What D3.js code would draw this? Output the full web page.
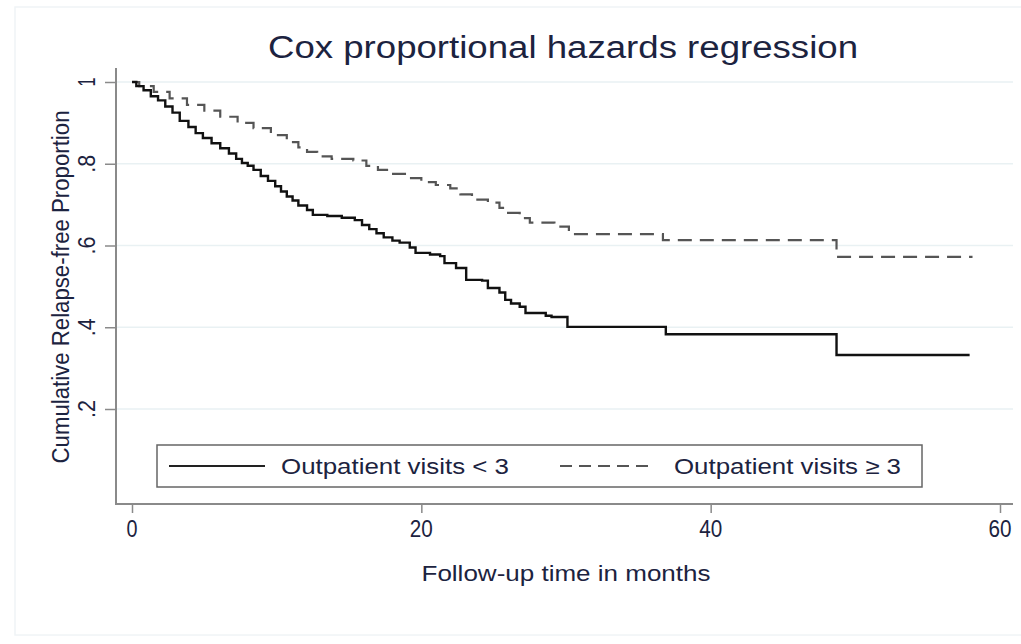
<!DOCTYPE html>
<html>
<head>
<meta charset="utf-8">
<script src="https://cdn.jsdelivr.net/npm/d3@7"></script>
<style>
  body { margin: 0; background: #fff; }
  text { font-family: "Liberation Sans", Arial, sans-serif; fill: #1c2340; }
</style>
</head>
<body>
<div id="chart"></div>
<script>
// Kaplan-Meier style step data
const lowTime = [0, 0.3, 0.8, 1.3, 1.8, 2.3, 2.8, 3.3, 3.9, 4.4, 4.9, 5.5, 6.1, 6.7, 7.2, 7.6, 8.0, 8.4, 8.9, 9.4,
  9.9, 10.3, 10.7, 11.1, 11.5, 12.1, 12.5, 13.5, 14.5, 15.4, 15.9, 16.4, 16.9, 17.4, 18.0, 18.5, 19.2, 19.6, 20.6,
  21.3, 21.6, 22.4, 23.1, 24.2, 24.6, 25.4, 25.8, 26.2, 26.8, 27.2, 28.6, 29.0, 30.1, 36.9, 48.7, 57.9];
const lowSurv = [1.0, 0.99, 0.98, 0.965, 0.955, 0.94, 0.925, 0.905, 0.89, 0.875, 0.863, 0.85, 0.838, 0.825, 0.812,
  0.802, 0.795, 0.785, 0.77, 0.758, 0.745, 0.732, 0.72, 0.71, 0.698, 0.687, 0.675, 0.672, 0.668, 0.662, 0.65, 0.64,
  0.63, 0.62, 0.612, 0.607, 0.595, 0.582, 0.578, 0.574, 0.557, 0.545, 0.516, 0.514, 0.496, 0.485, 0.467, 0.458,
  0.45, 0.435, 0.428, 0.425, 0.401, 0.383, 0.332, 0.332];

const highTime = [0, 0.5, 1.5, 2.6, 3.8, 5.0, 6.1, 7.3, 8.4, 9.6, 10.7, 11.5, 12.1, 12.8, 13.8, 15.3, 16.2, 17.0,
  17.8, 19.0, 20.0, 21.0, 22.0, 22.7, 23.5, 24.6, 25.4, 26.0, 26.8, 27.5, 29.2, 30.2, 36.7, 48.7, 58.1];
const highSurv = [1.0, 0.99, 0.976, 0.96, 0.944, 0.93, 0.915, 0.9, 0.887, 0.87, 0.853, 0.84, 0.829, 0.818, 0.812,
  0.808, 0.795, 0.785, 0.775, 0.765, 0.755, 0.748, 0.74, 0.725, 0.712, 0.705, 0.692, 0.68, 0.667, 0.656, 0.646,
  0.628, 0.613, 0.572, 0.572];

const xTicks = [0, 20, 40, 60];
const yTicks = [0.2, 0.4, 0.6, 0.8, 1];
const yTickLabels = [".2", ".4", ".6", ".8", "1"];
const legendLabels = ["Outpatient visits < 3", "Outpatient visits \u2265 3"];

const width = 1021, height = 644;

const svg = d3.select("#chart").append("svg")
    .attr("width", width)
    .attr("height", height);

svg.append("rect").attr("width", width).attr("height", height).attr("fill", "#fff");

// faint outer frame
svg.append("rect")
    .attr("x", 15).attr("y", 7)
    .attr("width", 1030).attr("height", 628)
    .attr("fill", "none")
    .attr("stroke", "#f0f4f6")
    .attr("stroke-width", 1.5);

const x = d3.scaleLinear().domain([0, 60]).range([132, 1000]);
const y = d3.scaleLinear().domain([0.2, 1]).range([409, 82]);

const axisX = 116, axisY = 504, plotRight = 1013, plotTop = 68;

// gridlines
svg.selectAll(".grid")
    .data(yTicks)
    .enter()
    .append("line")
    .attr("class", "grid")
    .attr("x1", axisX + 1).attr("x2", plotRight)
    .attr("y1", d => y(d)).attr("y2", d => y(d))
    .attr("stroke", "#e9f1f3")
    .attr("stroke-width", 1.5);

// y axis
const yAxis = svg.append("g")
    .attr("transform", `translate(${axisX},0)`)
    .call(d3.axisLeft(y).tickValues(yTicks).tickSize(11).tickFormat(""));
yAxis.select(".domain").remove();
yAxis.selectAll(".tick line").attr("stroke", "#8a8a8a").attr("stroke-width", 1.5);
svg.append("line")
    .attr("x1", axisX).attr("x2", axisX)
    .attr("y1", plotTop).attr("y2", axisY)
    .attr("stroke", "#8a8a8a").attr("stroke-width", 2);

svg.selectAll(".ylab")
    .data(yTicks)
    .enter()
    .append("text")
    .attr("class", "ylab")
    .attr("transform", d => `translate(95,${y(d)}) rotate(-90)`)
    .attr("text-anchor", "middle")
    .style("font-size", "24px")
    .attr("textLength", (d, i) => i === 4 ? 9 : 18)
    .attr("lengthAdjust", "spacingAndGlyphs")
    .text((d, i) => yTickLabels[i]);

// x axis
const xAxis = svg.append("g")
    .attr("transform", `translate(0,${axisY})`)
    .call(d3.axisBottom(x).tickValues(xTicks).tickSize(9).tickFormat(""));
xAxis.select(".domain").remove();
xAxis.selectAll(".tick line").attr("stroke", "#8a8a8a").attr("stroke-width", 1.5);
svg.append("line")
    .attr("x1", axisX - 1).attr("x2", plotRight)
    .attr("y1", axisY).attr("y2", axisY)
    .attr("stroke", "#8a8a8a").attr("stroke-width", 2);

svg.selectAll(".xlab")
    .data(xTicks)
    .enter()
    .append("text")
    .attr("class", "xlab")
    .attr("x", d => x(d))
    .attr("y", 537)
    .attr("text-anchor", "middle")
    .style("font-size", "23px")
    .attr("textLength", d => d === 0 ? 11 : 23)
    .attr("lengthAdjust", "spacingAndGlyphs")
    .text(d => d);

// titles
svg.append("text")
    .attr("x", 563).attr("y", 58)
    .attr("text-anchor", "middle")
    .style("font-size", "31px")
    .attr("textLength", 590)
    .attr("lengthAdjust", "spacingAndGlyphs")
    .text("Cox proportional hazards regression");

svg.append("text")
    .attr("x", 566).attr("y", 581)
    .attr("text-anchor", "middle")
    .style("font-size", "22px")
    .attr("textLength", 289)
    .attr("lengthAdjust", "spacingAndGlyphs")
    .text("Follow-up time in months");

svg.append("text")
    .attr("transform", `translate(69,287) rotate(-90)`)
    .attr("text-anchor", "middle")
    .style("font-size", "23px")
    .attr("textLength", 353)
    .attr("lengthAdjust", "spacingAndGlyphs")
    .text("Cumulative Relapse-free Proportion");

// survival curves
const line = d3.line()
    .x(d => x(d[0]))
    .y(d => y(d[1]))
    .curve(d3.curveStepAfter);

const lowData = lowTime.map((t, i) => [t, lowSurv[i]]);
const highData = highTime.map((t, i) => [t, highSurv[i]]);

svg.append("path")
    .datum(highData)
    .attr("d", line)
    .attr("fill", "none")
    .attr("stroke", "#555")
    .attr("stroke-width", 2.2)
    .attr("stroke-dasharray", "14,8");

svg.append("path")
    .datum(lowData)
    .attr("d", line)
    .attr("fill", "none")
    .attr("stroke", "#111")
    .attr("stroke-width", 2.4);

// legend
const legend = svg.append("g");
legend.append("rect")
    .attr("x", 157).attr("y", 445)
    .attr("width", 765).attr("height", 42)
    .attr("fill", "#fff")
    .attr("stroke", "#666")
    .attr("stroke-width", 1.5);

legend.append("line")
    .attr("x1", 169).attr("x2", 265)
    .attr("y1", 466).attr("y2", 466)
    .attr("stroke", "#222").attr("stroke-width", 1.8);
legend.append("line")
    .attr("x1", 560).attr("x2", 655)
    .attr("y1", 466).attr("y2", 466)
    .attr("stroke", "#555").attr("stroke-width", 1.8)
    .attr("stroke-dasharray", "12,7");

legend.append("text")
    .attr("x", 281).attr("y", 474)
    .style("font-size", "22px")
    .attr("textLength", 228)
    .attr("lengthAdjust", "spacingAndGlyphs")
    .text(legendLabels[0]);
legend.append("text")
    .attr("x", 674).attr("y", 474)
    .style("font-size", "22px")
    .attr("textLength", 227)
    .attr("lengthAdjust", "spacingAndGlyphs")
    .text(legendLabels[1]);
</script>
</body>
</html>
